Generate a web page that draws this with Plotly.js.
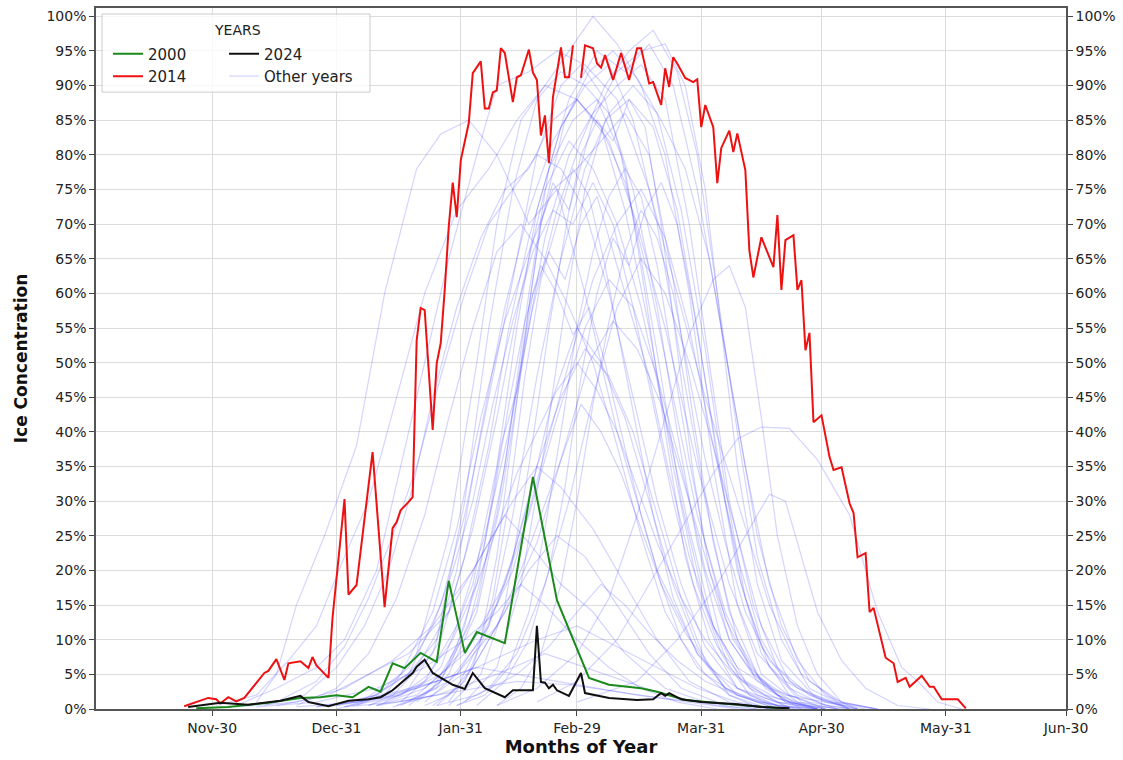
<!DOCTYPE html>
<html>
<head>
<meta charset="utf-8">
<script src="https://cdn.plot.ly/plotly-3.0.1.min.js"></script>
<style>html,body{margin:0;padding:0;background:#fff;}#chart{width:1123px;height:760px;}</style>
</head>
<body>
<div id="chart"></div>
<script>
// x = days since Nov 1 (season day index)
const tickDays = [29, 60, 91, 120, 151, 181, 212, 242];
const tickLabels = ['Nov-30', 'Dec-31', 'Jan-31', 'Feb-29', 'Mar-31', 'Apr-30', 'May-31', 'Jun-30'];

const days2014 = [22,23,28,30,31,33,35,37,42,43,45,47,48,51,53,54,55,58,59,62,63,65,69,72,74,75,76,78,79,80,81,82,84,85,86,87,88,89,90,91,93,94,96,97,98,99,100,101,102,104,105,106,108,109,110,111,112,113,114,116,117,118,119,120,121,122,124,125,126,127,129,131,133,135,136,138,139,141,142,143,144,145,147,149,150,151,152,154,155,156,158,159,160,162,163,164,166,169,170,171,172,174,175,176,177,178,179,181,183,184,186,188,189,190,192,193,194,197,199,200,202,203,206,208,209,211,215,217];
const ice2014 = [0.4,0.6,1.6,1.4,0.8,1.7,1.1,1.6,5.2,5.5,7.2,4.2,6.6,6.9,5.9,7.5,6.3,4.5,13.1,30.3,16.5,17.9,37.1,14.7,26.1,27.0,28.7,29.9,30.6,53.2,57.9,57.6,40.3,49.9,52.8,60.5,69.6,76.0,71.0,79.2,84.6,91.8,93.5,86.7,86.7,89.0,89.3,95.4,94.7,87.6,91.2,91.5,95.2,91.9,90.8,82.8,85.7,78.8,88.3,95.5,91.2,91.2,95.8,null,91.1,95.8,95.4,93.2,92.6,94.4,90.8,94.7,90.8,95.4,95.4,90.3,90.5,87.2,92.5,89.8,94.1,93.2,91.1,90.5,90.9,84.0,87.2,84.0,75.9,81.0,83.5,80.4,83.1,77.8,66.2,62.3,68.1,63.8,71.3,60.5,67.7,68.4,60.5,61.9,51.8,54.3,41.4,42.4,36.4,34.5,34.9,29.7,28.3,21.9,22.5,14.0,14.6,7.4,6.6,3.9,4.5,3.2,4.8,3.2,3.2,1.4,1.4,0.1];

const days2000 = [25,33,43,51,56,60,64,68,71,74,77,81,85,88,92,95,102,109,115,123,128,136,140,147,160,166,173];
const ice2000 = [0.1,0.3,0.9,1.6,1.7,2.0,1.7,3.2,2.5,6.6,5.9,8.1,6.8,18.5,8.1,11.1,9.5,33.5,15.7,4.5,3.5,3.0,2.5,1.3,0.6,0.3,0.0];

const days2024 = [23,31,38,46,51,53,58,63,68,71,74,79,80,82,84,87,89,92,94,97,102,104,109,110,111,112,113,114,115,118,121,122,128,135,139,141,142,143,146,151,160,166,173];
const ice2024 = [0.3,0.9,0.6,1.2,1.9,1.0,0.4,1.2,1.4,1.7,2.7,5.2,6.1,7.1,5.2,4.2,3.5,2.9,5.2,3.0,1.7,2.7,2.7,12.0,3.9,3.8,3.0,3.5,2.7,1.9,5.2,2.3,1.6,1.3,1.4,2.3,1.9,2.3,1.4,1.0,0.7,0.3,0.1];

// Other years
const d1977 = [40,45,50,57,65,72,80,86,93,100,108,115,122,130,140,150,160,170];
const v1977 = [1,5,15,25,38,60,78,83,85,80,70,75,60,40,20,8,2,0];
const d1978 = [30,40,48,55,62,68,75,82,90,98,105,112,120,128,135,142,150,158,165,175,185];
const v1978 = [0.5,2,7,12,22,30,45,60,72,78,85,90,88,82,70,55,35,18,8,2,0];
const d1979 = [35,45,55,62,70,76,82,88,95,100,108,115,122,130,138,145,152,160,168,176,185,195];
const v1979 = [0.5,3,6,10,20,35,50,65,80,90,92,95,93,88,75,60,45,30,15,5,1,0];
const d1982 = [45,55,62,68,74,80,86,92,98,104,110,116,122,128,134,140,146,152,160,170];
const v1982 = [1,4,9,16,25,35,48,60,70,75,80,78,72,60,45,30,18,9,3,0];
const d1985 = [50,60,68,75,82,88,94,100,106,112,118,124,130,136,142,150,158,168];
const v1985 = [0.5,3,8,16,28,42,55,66,70,65,58,50,38,25,14,6,2,0];
const d1994 = [42,52,60,67,73,79,84,90,96,102,108,114,120,126,132,138,144,150,157,164,172,182];
const v1994 = [0.5,2,6,12,20,32,45,58,68,75,78,85,88,84,76,62,45,28,14,5,1,0];
const d1996 = [60,72,80,88,95,100,106,112,118,124,130,136,142,148,154,160,166,175,185];
const v1996 = [0,2,8,25,50,70,85,90,95,100,96,90,80,60,35,15,5,1,0];
const d2003 = [65,75,85,92,98,104,110,116,122,128,134,140,146,152,158,165,172,180];
const v2003 = [0.5,3,10,30,55,75,88,92,90,93,85,70,50,30,14,5,1,0];
const d2004 = [70,80,88,95,102,108,113,118,125,132,138,144,150,156,162,168,175,182,190];
const v2004 = [0.5,2,6,15,35,60,78,88,95,92,96,90,75,55,35,18,7,2,0];
const d1981 = [55,68,78,86,92,98,104,110,116,121,127,132,137,142,147,153,160,170,178];
const v1981 = [0.3,1.5,5,15,28,45,62,80,90,93,88,78,60,40,22,10,3,0.5,0];
const d1984 = [75,85,93,100,106,111,117,123,129,135,141,147,153,159,165,171,178,186,195];
const v1984 = [0.5,3,12,28,50,70,85,92,95,91,85,78,65,45,25,12,4,1,0];
const d1986 = [62,74,84,90,96,102,108,114,120,126,132,138,144,150,156,163,172];
const v1986 = [0.3,2,8,20,40,58,72,82,88,84,72,55,35,18,8,2,0];
const d1989 = [80,88,95,101,107,112,118,124,130,136,142,148,153,158,164,170,178,188];
const v1989 = [1,5,14,30,52,68,80,86,90,93,88,70,50,30,15,6,2,0];
const d1993 = [68,78,86,92,98,103,108,113,119,125,131,136,141,146,152,158,165,174];
const v1993 = [0.5,3,10,22,38,55,68,78,85,88,80,65,48,30,15,6,2,0];
const d2015 = [72,82,90,97,103,109,115,121,127,133,139,145,150,155,160,165,171,178,188];
const v2015 = [1,4,12,25,40,58,72,82,90,95,98,92,80,60,40,22,10,3,0];
const d1976 = [58,70,80,88,94,100,106,112,118,124,130,136,142,148,154,161,170,180];
const v1976 = [0.5,2,6,14,26,42,60,75,82,78,70,58,42,26,12,4,1,0];
const d2019 = [85,92,98,104,110,116,122,128,134,140,146,152,157,162,168,176,185];
const v2019 = [0.5,4,12,28,48,65,78,86,90,86,72,52,32,16,6,1,0];
const d1980 = [76,86,94,100,105,110,116,122,128,134,140,145,150,156,163,172,180];
const v1980 = [1,6,18,35,55,72,84,90,86,75,58,40,24,10,3,0.5,0];
const d2009 = [88,96,102,108,113,118,124,130,136,142,147,152,156,160,165,171,179,188];
const v2009 = [0.5,5,15,35,55,72,85,92,95,96,90,75,55,35,18,7,2,0];
const d2010 = [66,76,84,90,96,102,108,114,120,126,132,138,144,149,154,160,167,176];
const v2010 = [1,5,14,26,42,56,66,75,78,82,86,80,62,42,24,10,3,0];
const d2018 = [92,100,106,112,117,122,127,133,139,145,150,155,160,166,173,182];
const v2018 = [1,6,18,38,58,75,85,88,84,72,55,36,20,8,2,0];
const d1974 = [70,82,92,100,108,115,122,128,134,140,146,152,158,165,173,182];
const v1974 = [0.5,3,8,15,28,42,55,62,58,48,35,20,10,4,1,0];
const d1988 = [78,88,96,104,111,118,124,130,136,142,148,154,160,166,173,182,190];
const v1988 = [1,4,10,20,35,50,62,70,75,68,55,38,22,10,3,0.5,0];
const d1990 = [64,76,86,94,102,108,114,120,126,132,138,144,150,157,165,175];
const v1990 = [0.5,2,5,10,18,30,45,55,50,42,30,18,9,3,1,0];
const d2007 = [90,98,105,112,118,124,130,136,142,148,154,160,166,173,182,190];
const v2007 = [0.5,3,8,18,30,45,58,65,60,50,38,25,12,4,1,0];
const d2008 = [82,90,98,104,110,116,122,128,134,140,146,152,158,166];
const v2008 = [1,5,12,22,35,45,52,48,40,28,16,7,2,0];
const d2013 = [100,110,120,128,135,142,148,154,158,162,166,170,175,180,186,195];
const v2013 = [0.5,3,8,16,28,42,54,62,64,58,42,25,12,5,1,0];
const d1992 = [74,84,94,102,110,117,123,129,135,141,147,153,159,166,174,182];
const v1992 = [0.3,2,6,14,24,38,50,56,52,44,32,20,10,4,1,0];
const d1998 = [110,120,130,138,146,154,160,166,173,180,188,195,201,205,210,216];
const v1998 = [1,4,10,18,26,34,39,40.7,40.5,36,28,14,6,4,1,0];
const d2022 = [120,135,145,155,162,168,172,176,180,186,192,200,208];
const v2022 = [1,4,10,18,25,31,30,22,14,7,3,0.5,0];
const d2002 = [50,65,80,95,110,120,130,140,150,160,170];
const v2002 = [0.3,1,3,6,10,12,9,6,3,1,0];
const d2006 = [60,75,90,100,108,115,122,130,138,146,155,165];
const v2006 = [0.5,2,5,12,20,25,22,15,8,3,1,0];
const d2012 = [40,55,70,82,92,100,106,112,120,128,136,145,155];
const v2012 = [0.3,1,3,6,10,14,18,15,10,6,3,1,0];
const d2017 = [70,85,100,112,122,132,142,155,165];
const v2017 = [0.5,2,5,8,6,4,2,0.5,0];
const d1983 = [45,58,68,78,88,96,104,110,116,124,132,140,148,158,168];
const v1983 = [0.5,2,5,8,14,22,30,35,32,26,18,10,4,1,0];
const d2016 = [35,50,62,74,84,94,102,108,116,124,132,142,152,162];
const v2016 = [0.3,1,3,7,12,20,28,24,18,14,8,3,1,0];
const d1973 = [84,90,96,100,104,108,111,114,118,121,125,129,133,137,141,145,149,153,158,164,172,182,192];
const v1973 = [0.5,3,10,22,40,58,70,76,72,80,85,82,88,84,70,52,34,20,10,5,2,1,0];
const d1975 = [78,86,92,97,101,105,109,113,117,121,125,129,133,138,143,148,154,160,168,178,188];
const v1975 = [0.5,4,12,24,38,46,60,66,62,70,74,66,58,48,34,22,12,6,3,1,0];
const d1987 = [95,102,108,113,117,121,125,129,133,137,141,145,149,153,157,161,166,172,180,190];
const v1987 = [0.5,4,10,20,32,48,60,68,64,72,76,70,58,44,30,18,9,4,1.5,0];
const d1991 = [88,94,99,103,107,111,115,119,123,127,131,135,139,144,150,157,166,176];
const v1991 = [1,6,16,30,48,62,70,78,74,64,52,40,28,16,8,3,1,0];
const d1995 = [60,70,78,84,89,94,99,104,109,114,119,124,129,134,139,144,149,155,162,170,180];
const v1995 = [0.5,2,6,12,20,30,44,56,66,72,70,76,70,58,44,30,18,9,4,1.5,0];
const d1997 = [100,106,111,116,120,124,128,132,136,140,144,148,152,157,162,168,175,184,194];
const v1997 = [0.5,3,8,18,30,44,56,66,72,68,60,48,36,24,14,7,3,1,0];
const d1999 = [82,88,94,100,106,111,116,121,126,131,136,141,147,153,160,170,180];
const v1999 = [0.5,2,6,12,20,28,36,44,40,34,26,18,11,6,3,1,0];
const d2001 = [76,84,90,95,99,103,107,111,115,119,123,127,131,136,141,146,152,160,170];
const v2001 = [0.5,3,9,18,30,44,56,64,60,54,58,50,40,28,18,10,5,2,0];
const d2005 = [90,97,103,108,112,116,120,124,128,132,136,140,144,148,152,157,163,170,180];
const v2005 = [0.5,2,6,14,26,40,55,66,74,78,74,64,50,36,24,13,6,2,0];
const d2011 = [68,76,83,89,95,100,105,110,115,120,125,130,135,140,146,152,159,167,177,187];
const v2011 = [0.5,2,5,10,18,26,34,40,46,50,46,40,32,24,16,10,5,2,0.5,0];
const d2020 = [55,65,75,85,95,105,115,125,135,148,160];
const v2020 = [0.3,1,2.5,4,6,5,4,3,2,1,0];
const d2021 = [85,95,105,113,120,126,132,138,145,152,160,170,180];
const v2021 = [0.5,2,5,9,14,18,15,11,7,4,2,0.5,0];
const d2023 = [62,75,90,105,118,130,142,155,170];
const v2023 = [0.3,1,2.5,4,3.5,2.5,1.5,0.8,0];

const otherYearLabels = ['1973','1974','1975','1976','1977','1978','1979','1980','1981','1982','1983','1984','1985','1986','1987','1988','1989','1990','1991','1992','1993','1994','1995','1996','1997','1998','1999','2001','2002','2003','2004','2005','2006','2007','2008','2009','2010','2011','2012','2013','2015','2016','2017','2018','2019','2020','2021','2022','2023'];
const otherDays = [d1973,d1974,d1975,d1976,d1977,d1978,d1979,d1980,d1981,d1982,d1983,d1984,d1985,d1986,d1987,d1988,d1989,d1990,d1991,d1992,d1993,d1994,d1995,d1996,d1997,d1998,d1999,d2001,d2002,d2003,d2004,d2005,d2006,d2007,d2008,d2009,d2010,d2011,d2012,d2013,d2015,d2016,d2017,d2018,d2019,d2020,d2021,d2022,d2023];
const otherIce = [v1973,v1974,v1975,v1976,v1977,v1978,v1979,v1980,v1981,v1982,v1983,v1984,v1985,v1986,v1987,v1988,v1989,v1990,v1991,v1992,v1993,v1994,v1995,v1996,v1997,v1998,v1999,v2001,v2002,v2003,v2004,v2005,v2006,v2007,v2008,v2009,v2010,v2011,v2012,v2013,v2015,v2016,v2017,v2018,v2019,v2020,v2021,v2022,v2023];

const FONT = 'DejaVu Sans, Arial, sans-serif';
const traces = [];
otherDays.forEach((d, i) => {
  traces.push({
    x: d, y: otherIce[i], type: 'scatter', mode: 'lines',
    name: 'Other years', legendgroup: 'other', legend: 'legend2', legendrank: 2,
    showlegend: i === 0,
    line: {color: 'rgba(40,40,255,0.2)', width: 1.2},
    hovertemplate: otherYearLabels[i] + ': %{y:.1f}%<extra></extra>'
  });
});
traces.push({x: days2000, y: ice2000, type: 'scatter', mode: 'lines', name: '2000',
  line: {color: '#1a8a1a', width: 2}, legend: 'legend'});
traces.push({x: days2014, y: ice2014, type: 'scatter', mode: 'lines', name: '2014',
  line: {color: '#ee1111', width: 2}, legend: 'legend', connectgaps: false});
traces.push({x: days2024, y: ice2024, type: 'scatter', mode: 'lines', name: '2024',
  line: {color: '#111111', width: 2}, legend: 'legend2', legendrank: 1});
traces.push({x: [null], y: [null], yaxis: 'y2', showlegend: false, hoverinfo: 'skip', type: 'scatter', mode: 'lines'});

const yAx = {
  range: [0, 101.2], dtick: 5, ticksuffix: '%', showgrid: true, gridcolor: '#dcdcdc', gridwidth: 1,
  ticks: 'outside', ticklen: 5, tickcolor: '#444', tickfont: {family: FONT, size: 14, color: '#222'},
  zeroline: false, showline: true, linecolor: '#555', linewidth: 1.5, fixedrange: true
};

const layout = {
  width: 1123, height: 760,
  margin: {l: 96, r: 57, t: 8, b: 51},
  paper_bgcolor: '#ffffff', plot_bgcolor: '#ffffff',
  font: {family: FONT, color: '#222'},
  showlegend: true,
  xaxis: {
    range: [0, 242], tickvals: tickDays, ticktext: tickLabels,
    showgrid: true, gridcolor: '#dcdcdc', gridwidth: 1, zeroline: false,
    ticks: 'outside', ticklen: 5, tickcolor: '#444', tickfont: {family: FONT, size: 14, color: '#222'},
    showline: true, linecolor: '#555', linewidth: 1.5, mirror: true,
    title: {text: 'Months of Year', font: {family: FONT, size: 18, color: '#111', weight: 'bold'}, standoff: 4}
  },
  yaxis: Object.assign({}, yAx, {
    mirror: true,
    title: {text: 'Ice Concentration', font: {family: FONT, size: 17, color: '#111', weight: 'bold'}, standoff: 14}
  }),
  yaxis2: Object.assign({}, yAx, {overlaying: 'y', side: 'right', anchor: 'x', showgrid: false}),
  legend: {x: 0.0124, xanchor: 'left', y: 0.958, yanchor: 'top', bgcolor: 'rgba(0,0,0,0)', borderwidth: 0,
    font: {family: FONT, size: 15, color: '#222'}, traceorder: 'normal'},
  legend2: {x: 0.132, xanchor: 'left', y: 0.958, yanchor: 'top', bgcolor: 'rgba(0,0,0,0)', borderwidth: 0,
    font: {family: FONT, size: 15, color: '#222'}, traceorder: 'normal'},
  shapes: [{type: 'rect', xref: 'paper', yref: 'paper', x0: 0.0062, x1: 0.2825, y0: 0.880, y1: 0.9914,
    line: {color: '#cccccc', width: 1}, fillcolor: 'rgba(255,255,255,0.8)', layer: 'above'}],
  annotations: [{text: 'YEARS', xref: 'paper', yref: 'paper', x: 0.1454, y: 0.9686, xanchor: 'center', yanchor: 'middle',
    showarrow: false, font: {family: FONT, size: 14, color: '#222'}}]
};

Plotly.newPlot('chart', traces, layout, {displayModeBar: false, staticPlot: false});
</script>
</body>
</html>
